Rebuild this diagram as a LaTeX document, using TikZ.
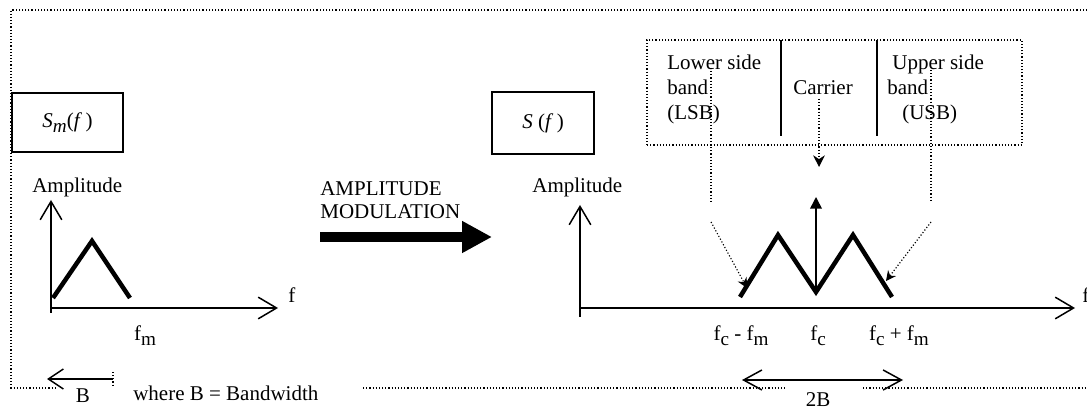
\documentclass[tikz,border=0pt]{standalone}
\usepackage{fontspec}
\setmainfont{Liberation Serif}
\usepackage{xcolor}
\usetikzlibrary{positioning,arrows.meta}
\definecolor{dInk}{RGB}{0,0,0}
\newcommand{\lo}[1]{\raisebox{-3.2pt}{\fontsize{11.5}{11.5}\selectfont #1}}
\tikzset{
  lbl/.style={font=\fontsize{12.6}{15}\selectfont, inner sep=0pt, text=dInk},
  fbox/.style={rectangle, draw=dInk, line width=0.8pt, inner sep=0pt,
               font=\fontsize{12.6}{15}\selectfont},
  dotline/.style={draw=dInk, line width=0.7pt, dash pattern=on 0.7pt off 1.2pt},
  axis/.style={draw=dInk, line width=0.9pt, -{Straight Barb[length=11pt,width=13pt]}},
  spec/.style={draw=dInk, line width=2.7pt},
  pointer/.style={dotline, -{Stealth[length=6pt,width=6pt]}},
  span/.style={draw=dInk, line width=0.9pt,
               {Straight Barb[length=11pt,width=12pt]}-{Straight Barb[length=11pt,width=12pt]}},
}

\begin{document}
\begin{tikzpicture}[x=0.6pt, y=-0.6pt]
  \useasboundingbox (0,0) rectangle (1087,410);

  % outer frame (open on the right, broken under the labels)
  \draw[dotline] (1087,10) -- (11,10) -- (11,388) -- (55,388);
  \draw[dotline] (363,388) -- (785,388);
  \draw[dotline] (863,388) -- (1087,388);

  % message spectrum
  \node[fbox, minimum width=66.6pt, minimum height=35.4pt] (smbox) at (67.5,122.5)
       {\textit{S}\lo{\textit{m}}(\textit{f}\,)};
  \node[lbl, anchor=base west] (ampL) at (32,193) {Amplitude};
  \coordinate (oL) at (51,308);
  \coordinate (yL) at (51,200);
  \coordinate (xL) at (278,308);
  \draw[axis] (51,313) -- (yL);
  \draw[axis] (oL) -- (xL);
  \node[lbl, anchor=base west] (fL) at (288,303) {f};
  \draw[spec] (53,298) -- (92,241) -- (130,298);
  \node[lbl, anchor=base] (fm) at (145,340) {f\lo{m}};

  % bandwidth note
  \coordinate (bR) at (113,379);
  \coordinate (bL) at (47,379);
  \draw[draw=dInk, line width=0.9pt, -{Straight Barb[length=9pt,width=12pt]}] (bR) -- (bL);
  \draw[dotline] (113,372) -- (113,386);
  \node[lbl, anchor=base] (bw) at (83,403) {B};
  \node[lbl, anchor=base west] (bwnote) at (133,400) {where B = Bandwidth};

  % modulation arrow
  \node[lbl, anchor=north west, align=left, font=\fontsize{12.6}{13.8}\selectfont]
       (amlbl) at (320,181) {AMPLITUDE\\MODULATION};
  \coordinate (amS) at (320,237);
  \coordinate (amE) at (492,237);
  \draw[draw=dInk, line width=6pt, -{Triangle[length=18pt,width=18pt]}] (amS) -- (amE);

  % modulated spectrum
  \node[fbox, minimum width=61.2pt, minimum height=37.2pt] (sbox) at (543,123)
       {\textit{S} (\textit{f}\,)};
  \node[lbl, anchor=base west] (ampR) at (532,193) {Amplitude};
  \coordinate (oR) at (580,308);
  \coordinate (yR) at (580,205);
  \coordinate (xR) at (1075,308);
  \draw[axis] (580,317) -- (yR);
  \draw[axis] (oR) -- (xR);
  \node[lbl, anchor=base west] (fR) at (1082,303) {f};
  \draw[spec] (740,297) -- (778,235) -- (816,292) -- (853,235) -- (892,297);
  \coordinate (wmid) at (816,292);
  \coordinate (ctop) at (816,197);
  \draw[draw=dInk, line width=0.9pt, -{Triangle[length=7pt,width=7pt]}] (wmid) -- (ctop);
  \node[lbl, anchor=base] (fcm) at (741,340) {f\lo{c} - f\lo{m}};
  \node[lbl, anchor=base] (fc) at (818,340) {f\lo{c}};
  \node[lbl, anchor=base] (fcp) at (899,340) {f\lo{c} + f\lo{m}};
  \coordinate (twoL) at (742,380);
  \coordinate (twoR) at (903,380);
  \draw[span] (twoL) -- (twoR);
  \node[lbl, anchor=base] (twoB) at (818,406) {2B};

  % side band legend
  \node[dotline, rectangle, minimum width=225pt, minimum height=63pt, inner sep=0pt]
       (band) at (834.5,92.5) {};
  \draw[draw=dInk, line width=1pt] (781,40) -- (781,136);
  \draw[draw=dInk, line width=1pt] (877,40) -- (877,136);
  \node[lbl, anchor=base west, align=left] (lsb) at (667,120) {Lower side\\band\\(LSB)};
  \node[lbl, anchor=base] (car) at (823,95) {Carrier};
  \node[lbl, anchor=base west, align=left] (usb) at (887,120)
       {\hspace*{3pt}Upper side\\band\\\hspace*{9pt}(USB)};

  % pointers from the legend to the spectrum
  \coordinate (lsbA) at (711,68);
  \coordinate (lsbB) at (711,202);
  \coordinate (lsbC) at (711,222);
  \coordinate (lsbD) at (747,288);
  \draw[dotline] (lsbA) -- (lsbB);
  \draw[pointer] (lsbC) -- (lsbD);
  \coordinate (usbA) at (931,70);
  \coordinate (usbB) at (931,202);
  \coordinate (usbC) at (931,222);
  \coordinate (usbD) at (886,281);
  \draw[dotline] (usbA) -- (usbB);
  \draw[pointer] (usbC) -- (usbD);
  \coordinate (carA) at (819,99);
  \coordinate (carB) at (819,167);
  \draw[dotline, -{Stealth[length=7pt,width=7pt]}] (carA) -- (carB);
\end{tikzpicture}
\end{document}
